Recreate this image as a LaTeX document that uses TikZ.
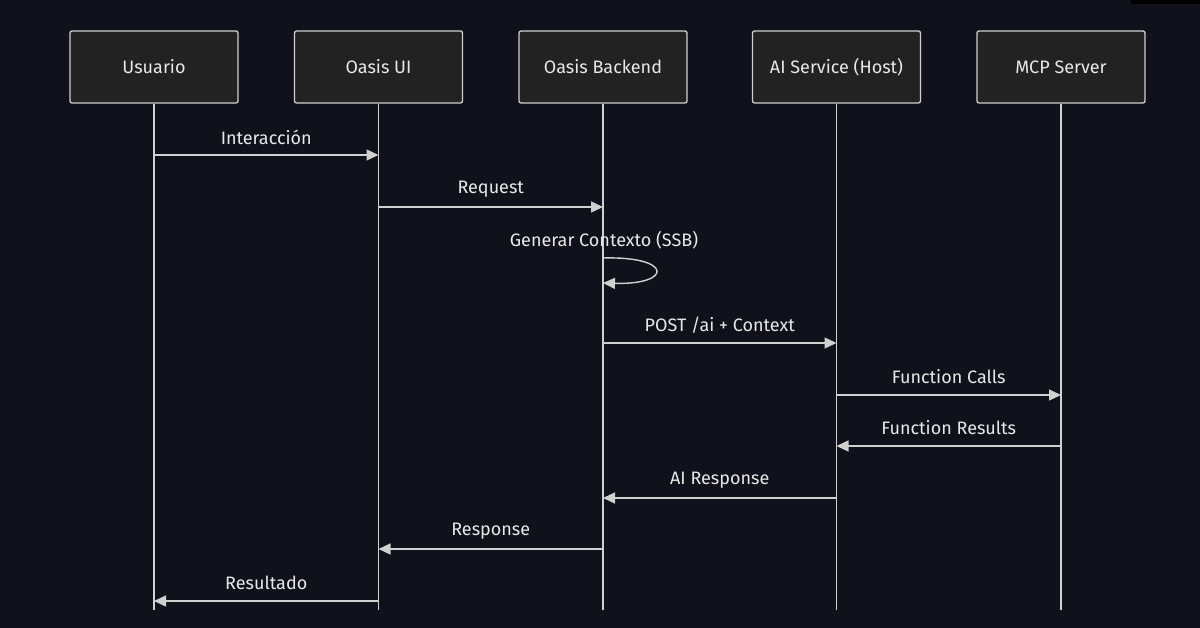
\documentclass[tikz,border=0pt]{standalone}
\usepackage{fontspec}
\setmainfont{Fira Sans}
\usetikzlibrary{arrows.meta}
\definecolor{bgcol}{HTML}{0F121A}
\definecolor{boxfill}{HTML}{222222}
\definecolor{linecol}{HTML}{D0D0D0}
\definecolor{txtcol}{HTML}{E8E8E8}
\tikzset{
	actor/.style={
		rectangle,
		rounded corners=2pt,
		draw=linecol,
		fill=boxfill,
		line width=1.3pt,
		minimum width=168pt,
		minimum height=72pt,
		text=txtcol,
		font=\fontsize{18}{21}\selectfont
	},
	lifeline/.style={
		draw=linecol,
		line width=1.4pt
	},
	msg/.style={
		draw=linecol,
		line width=1.4pt,
		-{Triangle[length=12pt,width=11pt,fill=linecol]}
	},
	msglabel/.style={
		text=txtcol,
		inner sep=0pt,
		font=\fontsize{18}{21}\selectfont
	},
}

\begin{document}
\begin{tikzpicture}[x=1pt,y=-1pt]
\fill[bgcol] (0,0) rectangle (1200,628);
\fill[black] (1131,0) rectangle (1200,4);
\useasboundingbox (0,0) rectangle (1200,628);

% participants
\node[actor] (usuario) at (154,67) {Usuario};
\node[actor] (oasisUI) at (378.5,67) {Oasis UI};
\node[actor] (backend) at (603,67) {Oasis Backend};
\node[actor] (aiService) at (836.5,67) {AI Service (Host)};
\node[actor] (mcpServer) at (1061,67) {MCP Server};

% lifelines
\coordinate (bottom) at (0,610);
\foreach \p in {usuario,oasisUI,backend,aiService,mcpServer}
	\draw[lifeline] (\p.south) -- (\p |- bottom);

% message rows
\coordinate (m1) at (0,155);
\coordinate (m2) at (0,207);
\coordinate (s1) at (0,258);
\coordinate (s2) at (0,283);
\coordinate (m3) at (0,343);
\coordinate (m4) at (0,395);
\coordinate (m5) at (0,446);
\coordinate (m6) at (0,498);
\coordinate (m7) at (0,549);
\coordinate (m8) at (0,601);

\draw[msg] (usuario |- m1) -- node[msglabel,yshift=18pt] {Interacción} (oasisUI |- m1);
\draw[msg] (oasisUI |- m2) -- node[msglabel,yshift=18pt] {Request} (backend |- m2);
\node[msglabel] (selfLabel) at (604,240) {Generar Contexto (SSB)};
\draw[msg] (backend |- s1) .. controls (673,256) and (673,285) .. (backend |- s2);
\draw[msg] (backend |- m3) -- node[msglabel,yshift=18pt] {POST /ai + Context} (aiService |- m3);
\draw[msg] (aiService |- m4) -- node[msglabel,yshift=18pt] {Function Calls} (mcpServer |- m4);
\draw[msg] (mcpServer |- m5) -- node[msglabel,yshift=18pt] {Function Results} (aiService |- m5);
\draw[msg] (aiService |- m6) -- node[msglabel,yshift=18pt] {AI Response} (backend |- m6);
\draw[msg] (backend |- m7) -- node[msglabel,yshift=18pt] {Response} (oasisUI |- m7);
\draw[msg] (oasisUI |- m8) -- node[msglabel,yshift=18pt] {Resultado} (usuario |- m8);

\end{tikzpicture}
\end{document}
